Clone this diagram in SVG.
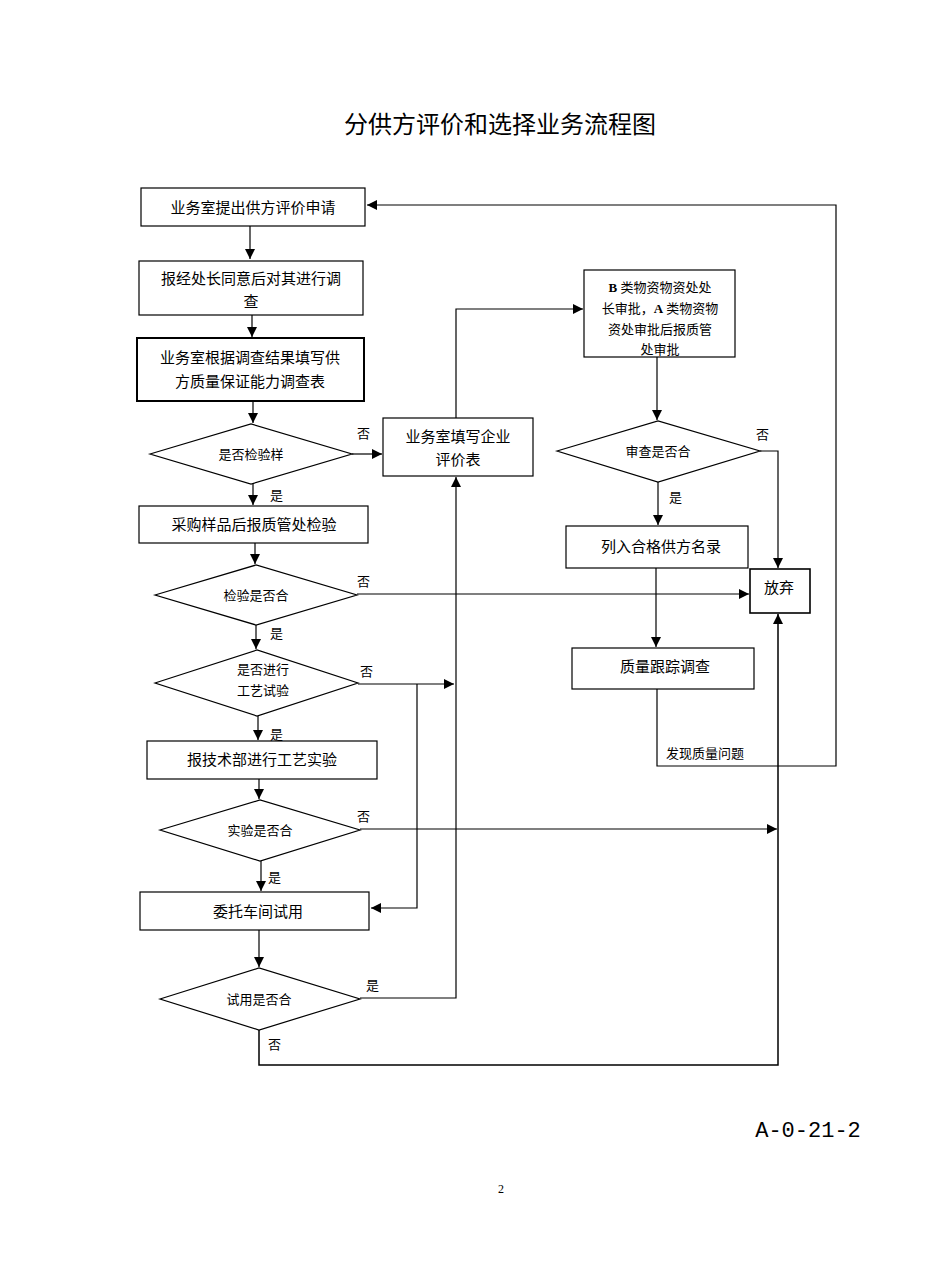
<svg xmlns="http://www.w3.org/2000/svg" width="950" height="1267" viewBox="0 0 950 1267">
<defs>
<marker id="a" viewBox="0 0 10 10" refX="10" refY="5" markerWidth="10" markerHeight="10" markerUnits="userSpaceOnUse" orient="auto"><path d="M0,0L10,5L0,10z" fill="#000"/></marker>
<style>
.n{fill:#fff;stroke:#000;stroke-width:1.2}
.t{font-family:"Liberation Serif","Noto Sans CJK SC",serif;font-size:15px;text-anchor:middle;fill:#000}
.s{font-family:"Liberation Serif","Noto Sans CJK SC",serif;font-size:13px;text-anchor:middle;fill:#000}
.c{fill:none;stroke:#000;stroke-width:1.2}
.l{font-family:"Liberation Serif","Noto Sans CJK SC",serif;font-size:13px;fill:#000}
</style>
</defs>
<rect width="950" height="1267" fill="#fff"/>
<text x="500" y="133" class="t" style="font-size:24px">分供方评价和选择业务流程图</text>
<g id="connectors" class="c">
<path d="M250,226V259" marker-end="url(#a)"/>
<path d="M252,315V337" marker-end="url(#a)"/>
<path d="M253,401V423" marker-end="url(#a)"/>
<path d="M352,454H382" marker-end="url(#a)"/>
<path d="M253,484V505" marker-end="url(#a)"/>
<path d="M255,543V564" marker-end="url(#a)"/>
<path d="M357,594H749" marker-end="url(#a)"/>
<path d="M256,625V649" marker-end="url(#a)"/>
<path d="M358,684H454" marker-end="url(#a)"/>
<path d="M417,684V908H371" marker-end="url(#a)"/>
<path d="M258,716V740" marker-end="url(#a)"/>
<path d="M259,779V799" marker-end="url(#a)"/>
<path d="M360,829H777" marker-end="url(#a)"/>
<path d="M261,861V891" marker-end="url(#a)"/>
<path d="M259,930V967" marker-end="url(#a)"/>
<path d="M360,998H456V477" marker-end="url(#a)"/>
<path d="M456,418V309H583" marker-end="url(#a)"/>
<path d="M259,1030V1065H778V614" marker-end="url(#a)" style="stroke-width:1.5"/>
<path d="M657,357V420" marker-end="url(#a)"/>
<path d="M658,482V525" marker-end="url(#a)"/>
<path d="M760,451H778V568" marker-end="url(#a)"/>
<path d="M656,568V647" marker-end="url(#a)"/>
<path d="M657,689V766H836V205H367" marker-end="url(#a)"/>
</g>
<g class="l">
<text x="357" y="438">否</text><text x="270" y="500">是</text>
<text x="357" y="586">否</text><text x="270" y="638">是</text>
<text x="360" y="676">否</text><text x="270" y="739">是</text>
<text x="357" y="821">否</text><text x="268" y="882">是</text>
<text x="366" y="990">是</text><text x="268" y="1049">否</text>
<text x="756" y="439">否</text><text x="669" y="502">是</text>
<text x="666" y="758">发现质量问题</text>
</g>
<g id="n1"><rect class="n" x="141" y="188" width="224" height="38"/><text class="t" x="253" y="213">业务室提出供方评价申请</text></g>
<g id="n2"><rect class="n" x="139" y="261" width="224" height="54"/><text class="t" x="251" y="284">报经处长同意后对其进行调</text><text class="t" x="251" y="307">查</text></g>
<g id="n3"><rect class="n" x="137" y="338" width="227" height="63" style="stroke-width:2"/><text class="t" x="250" y="363">业务室根据调查结果填写供</text><text class="t" x="250" y="387">方质量保证能力调查表</text></g>
<g id="d1"><path class="n" d="M150,454L251,424L352,454L251,484z"/><text class="s" x="251" y="459">是否检验样</text></g>
<g id="n4"><rect class="n" x="383" y="418" width="150" height="58"/><text class="t" x="458" y="442">业务室填写企业</text><text class="t" x="458" y="465">评价表</text></g>
<g id="n5"><rect class="n" x="139" y="506" width="229" height="37"/><text class="t" x="254" y="530">采购样品后报质管处检验</text></g>
<g id="d2"><path class="n" d="M155,595L256,565L357,595L256,625z"/><text class="s" x="256" y="600">检验是否合</text></g>
<g id="d3"><path class="n" d="M155,683L257,650L358,683L257,716z"/><text class="s" x="263" y="674">是否进行</text><text class="s" x="263" y="695">工艺试验</text></g>
<g id="n6"><rect class="n" x="147" y="741" width="230" height="38"/><text class="t" x="262" y="765">报技术部进行工艺实验</text></g>
<g id="d4"><path class="n" d="M160,830L260,800L360,830L260,861z"/><text class="s" x="260" y="835">实验是否合</text></g>
<g id="n7"><rect class="n" x="140" y="892" width="229" height="38"/><text class="t" x="258" y="917">委托车间试用</text></g>
<g id="d5"><path class="n" d="M160,999L259,968L360,999L259,1030z"/><text class="s" x="259" y="1004">试用是否合</text></g>
<g id="n8"><rect class="n" x="584" y="270" width="151" height="87"/><text class="s" x="660" y="292"><tspan font-weight="bold">B</tspan> 类物资物资处处</text><text class="s" x="660" y="313">长审批，<tspan font-weight="bold">A</tspan> 类物资物</text><text class="s" x="660" y="334">资处审批后报质管</text><text class="s" x="660" y="354">处审批</text></g>
<g id="d6"><path class="n" d="M557,451L658,421L760,451L658,482z"/><text class="s" x="658" y="456">审查是否合</text></g>
<g id="n9"><rect class="n" x="566" y="526" width="182" height="42"/><text class="t" x="661" y="552">列入合格供方名录</text></g>
<g id="n10"><rect class="n" x="750" y="569" width="60" height="44" style="stroke-width:1.6"/><text class="t" x="779" y="593">放弃</text></g>
<g id="n11"><rect class="n" x="572" y="648" width="182" height="41"/><text class="t" x="665" y="672">质量跟踪调查</text></g>
<text x="808" y="1137" style="font-family:'Liberation Mono',monospace;font-size:22px;text-anchor:middle">A-0-21-2</text>
<text x="501" y="1193" class="s" style="font-size:12px">2</text>
</svg>
